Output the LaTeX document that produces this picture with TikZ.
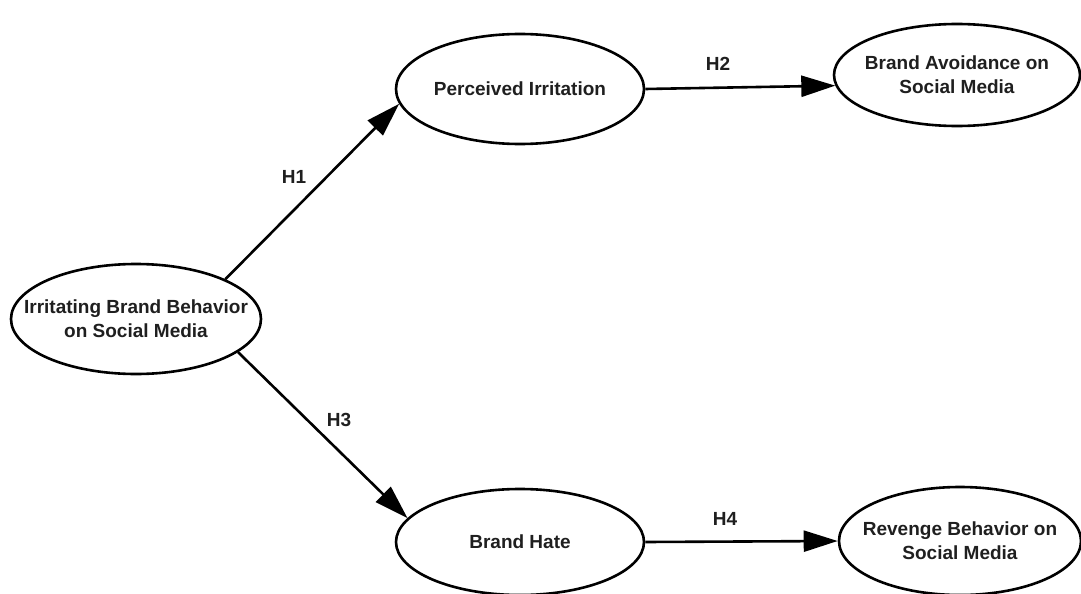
\documentclass[tikz,border=0pt]{standalone}
\usepackage{fontspec}
\setmainfont{Liberation Sans}
\usetikzlibrary{arrows.meta,shapes.geometric}
\begin{document}
\begin{tikzpicture}[x=1pt,y=-1pt,
  txt/.style={font=\fontsize{19}{24}\selectfont\bfseries, align=center, text=black!88},
  cons/.style={ellipse, draw, line width=2.6pt, minimum width=248pt, minimum height=106pt, inner sep=0pt, fill=white},
  link/.style={line width=2.6pt, -{Triangle[length=34pt,width=21pt]}}]
\useasboundingbox (0,0) rectangle (1081,594);
\fill[white] (0,0) rectangle (1081,594);
\node[cons, minimum width=250pt, minimum height=110pt, label={[txt]center:Irritating Brand Behavior\\on Social Media}] (A) at (136,319) {};
\node[cons, minimum height=110pt, label={[txt]center:Perceived Irritation}] (P) at (520,89) {};
\node[cons, minimum width=246pt, minimum height=102pt, label={[txt]center:Brand Avoidance on\\Social Media}] (BA) at (957,75) {};
\node[cons, minimum height=106pt, label={[txt]center:Brand Hate}] (BH) at (520,542) {};
\node[cons, minimum width=242pt, minimum height=108pt, label={[txt]center:Revenge Behavior on\\Social Media}] (RB) at (960,541) {};
\draw[link] (A.24) -- (P.187);
\draw[link] (P.east) -- (BA.185);
\draw[link] (A.-18) -- (BH.168);
\draw[link] (BH.east) -- (RB.180);
\node[txt] (h1) at (294,177) {H1};
\node[txt] (h2) at (718,64) {H2};
\node[txt] (h3) at (339,420) {H3};
\node[txt] (h4) at (725,519) {H4};
\end{tikzpicture}
\end{document}
